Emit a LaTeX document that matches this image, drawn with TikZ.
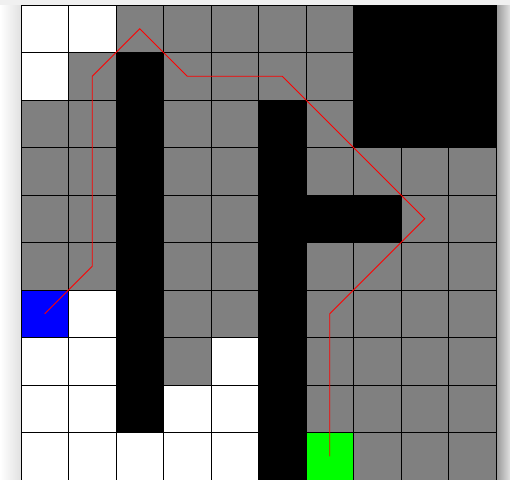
\documentclass[tikz,border=0pt]{standalone}
\begin{document}
\begin{tikzpicture}[x=1pt,y=-1pt,
  gridline/.style={draw=black,line width=0.9pt},
  route/.style={draw=red,line width=0.8pt,line join=miter}]
\useasboundingbox (0,0) rectangle (510,479);
\colorlet{W}{white}
\colorlet{G}{gray}
\colorlet{K}{black}
\colorlet{B}{blue}
\colorlet{N}{green}
\def\cs{47.5}
\begin{scope}
\clip (0,0) rectangle (510,479);
\fill[white] (0,0) rectangle (510,479);
% drop shadow
\shade[left color=white,right color=black!12] (0,0) rectangle (21,479);
\shade[left color=black!40,right color=black!12] (496.5,0) rectangle (510,479);
\fill[black!6] (0,0) rectangle (510,5);
% cells
\foreach \r/\row in {
  0/{W,W,G,G,G,G,G,K,K,K},
  1/{W,G,K,G,G,G,G,K,K,K},
  2/{G,G,K,G,G,K,G,K,K,K},
  3/{G,G,K,G,G,K,G,G,G,G},
  4/{G,G,K,G,G,K,K,K,G,G},
  5/{G,G,K,G,G,K,G,G,G,G},
  6/{B,W,K,G,G,K,G,G,G,G},
  7/{W,W,K,G,W,K,G,G,G,G},
  8/{W,W,K,W,W,K,G,G,G,G},
  9/{W,W,W,W,W,K,N,G,G,G}}{
  \foreach \col [count=\ci from 0] in \row {
    \fill[\col] (21+\cs*\ci,5+\cs*\r) rectangle ++(\cs,\cs);
  }
}
% grid lines
\foreach \i in {0,...,10}{
  \draw[gridline] (21+\cs*\i,5) -- (21+\cs*\i,480);
  \draw[gridline] (21,5+\cs*\i) -- (496,5+\cs*\i);
}
% route through cell centres (column, row)
\foreach \n/\c/\r in {p0/0/6,p1/1/5,p2/1/1,p3/2/0,p4/3/1,p5/5/1,p6/8/4,p7/6/6,p8/6/9}{
  \coordinate (\n) at (21+\cs*\c+23.75,5+\cs*\r+23.75);
}
\draw[route] (p0) -- (p1) -- (p2) -- (p3) -- (p4) -- (p5) -- (p6) -- (p7) -- (p8);
\end{scope}
\end{tikzpicture}
\end{document}
